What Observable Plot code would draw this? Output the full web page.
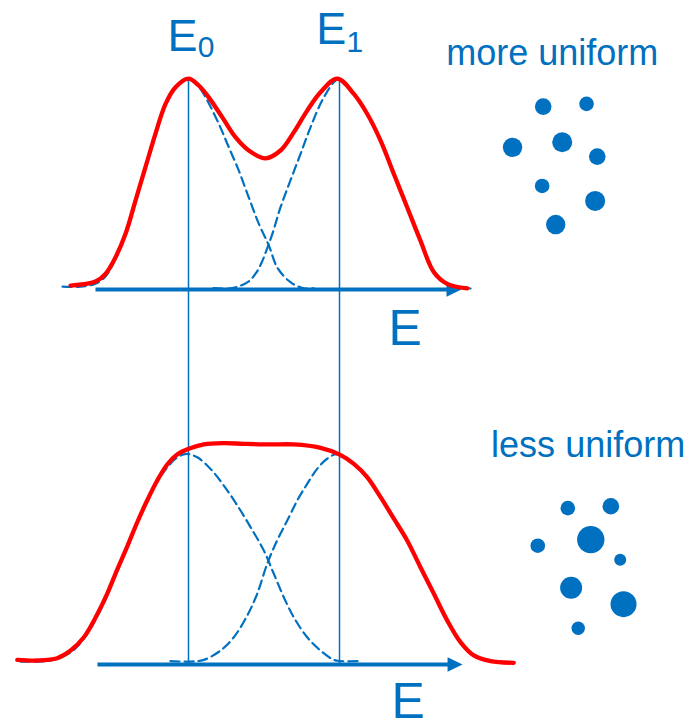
<!DOCTYPE html>
<html>
<head>
<meta charset="utf-8">
<script src="https://cdn.jsdelivr.net/npm/d3@7"></script>
<script src="https://cdn.jsdelivr.net/npm/@observablehq/plot@0.6"></script>
<style>
  body { margin: 0; background: #fff; }
  #chart svg { display: block; }
</style>
</head>
<body>
<div id="chart"></div>
<script>
// Two energy levels and their broadened line shapes (energy in arbitrary units,
// intensity normalised to the level peak height).
const E0 = 1;
const E1 = 2;

// Upper panel: narrow distributions ("more uniform").
const topSum = [[0.219,0.019],[0.384,0.038],[0.450,0.074],[0.517,0.153],[0.583,0.264],[0.649,0.422],[0.715,0.580],[0.781,0.738],[0.848,0.880],[0.914,0.959],[1.0,1.0],[1.068,0.967],[1.134,0.911],[1.223,0.817],[1.311,0.722],[1.399,0.659],[1.510,0.622],[1.609,0.659],[1.697,0.745],[1.786,0.848],[1.874,0.935],[1.985,1.0],[2.095,0.927],[2.183,0.833],[2.272,0.706],[2.360,0.548],[2.448,0.390],[2.536,0.232],[2.625,0.082],[2.713,0.027],[2.846,0.006]];
const topLevel0 = [[0.166,0.014],[0.285,0.014],[0.384,0.028],[0.450,0.062],[0.517,0.147],[0.583,0.265],[0.649,0.422],[0.715,0.578],[0.781,0.739],[0.848,0.882],[0.914,0.957],[1.0,1.0],[1.066,0.962],[1.113,0.911],[1.201,0.785],[1.267,0.674],[1.333,0.564],[1.399,0.437],[1.466,0.311],[1.532,0.209],[1.587,0.106],[1.675,0.035],[1.764,0.006],[1.830,0.006]];
const topLevel1 = [[1.166,0.007],[1.291,0.007],[1.397,0.038],[1.450,0.081],[1.490,0.137],[1.523,0.199],[1.556,0.265],[1.609,0.389],[1.675,0.517],[1.742,0.643],[1.808,0.769],[1.885,0.896],[1.962,0.982],[2.0,1.0],[2.095,0.927],[2.183,0.833],[2.272,0.706],[2.360,0.548],[2.448,0.390],[2.536,0.232],[2.625,0.090],[2.713,0.028],[2.801,0.009],[2.868,0.005]];

// Lower panel: broad distributions ("less uniform").
const bottomSum = [[-0.134,0.022],[0.0,0.019],[0.130,0.030],[0.219,0.066],[0.307,0.129],[0.395,0.237],[0.462,0.336],[0.528,0.450],[0.594,0.559],[0.660,0.673],[0.726,0.777],[0.793,0.872],[0.859,0.948],[0.925,0.995],[1.002,1.022],[1.101,1.043],[1.234,1.049],[1.366,1.046],[1.543,1.043],[1.697,1.043],[1.874,1.027],[2.002,0.995],[2.095,0.951],[2.183,0.888],[2.272,0.793],[2.360,0.691],[2.448,0.588],[2.536,0.461],[2.625,0.335],[2.713,0.209],[2.801,0.106],[2.889,0.043],[3.0,0.016],[3.154,0.008]];
const bottomLevel0 = [[-0.113,0.014],[0.086,0.019],[0.219,0.057],[0.307,0.123],[0.395,0.227],[0.462,0.327],[0.528,0.450],[0.594,0.559],[0.660,0.673],[0.726,0.777],[0.793,0.867],[0.859,0.934],[0.925,0.981],[0.987,0.998],[1.058,0.982],[1.146,0.927],[1.234,0.848],[1.323,0.754],[1.411,0.651],[1.499,0.540],[1.565,0.430],[1.631,0.319],[1.697,0.224],[1.786,0.129],[1.874,0.066],[1.962,0.022],[2.007,0.016],[2.139,0.016]];
const bottomLevel1 = [[0.881,0.016],[1.013,0.014],[1.101,0.022],[1.212,0.066],[1.300,0.129],[1.389,0.232],[1.455,0.335],[1.521,0.477],[1.587,0.588],[1.654,0.682],[1.720,0.777],[1.786,0.856],[1.852,0.927],[1.918,0.975],[1.985,0.997],[2.095,0.951],[2.183,0.888],[2.272,0.793],[2.360,0.691],[2.448,0.588],[2.536,0.461],[2.625,0.335],[2.713,0.209],[2.801,0.106],[2.889,0.043],[3.0,0.016],[3.154,0.008]];

// Particle sketches: position (same units as the curves) and relative size.
const particlesMore = [[3.349,0.867,0.83],[3.636,0.880,0.73],[3.146,0.674,0.97],[3.475,0.698,1.0],[3.707,0.630,0.83],[3.342,0.491,0.73],[3.693,0.420,1.0],[3.432,0.308,0.97]];
const particlesLess = [[3.512,0.741,0.73],[3.797,0.750,0.83],[3.664,0.592,1.37],[3.313,0.563,0.73],[3.859,0.496,0.6],[3.534,0.364,1.1],[3.881,0.286,1.3],[3.581,0.172,0.67]];

const panelTitles = ["more uniform", "less uniform"];
const levelNames = [["E", "0"], ["E", "1"]];
const axisName = "E";

// ---- layout ----
const BLUE = "#0070C0";
const RED = "#FF0000";
const FONT = "'Liberation Sans', Arial, Helvetica, sans-serif";
const upperShift = 1.777;             // the upper panel sits this far above the lower one
const axisFrom = [0.384, 0.397];      // start of each energy axis (upper, lower)
const axisTip = [2.808, 2.815];       // arrow tips

const toRows = (pairs, shift) => pairs.map(([e, i]) => ({e, i: i + shift}));
const toDots = (list, shift) => list.map(([e, i, s]) => ({e, i: i + shift, s}));

// right-pointing filled arrowhead, anchored at its tip
const arrowHead = {
  draw(context, size) {
    const r = Math.sqrt(size / Math.PI);
    const len = 2.5 * r, half = 1.2 * r;
    context.moveTo(0, 0);
    context.lineTo(-len, -half);
    context.lineTo(-len, half);
    context.closePath();
  }
};

const dashed = {x: "e", y: "i", curve: "catmull-rom", stroke: BLUE, strokeWidth: 2.2, strokeDasharray: "9,5"};
const solid = {x: "e", y: "i", curve: "catmull-rom", stroke: RED, strokeWidth: 4.3, strokeLinecap: "round", strokeLinejoin: "round"};

const axes = [
  {x1: axisFrom[0], x2: axisTip[0] - 0.08, y: upperShift, tip: axisTip[0], dy: 55},
  {x1: axisFrom[1], x2: axisTip[1] - 0.08, y: 0, tip: axisTip[1], dy: 53.5}
];

// label pieces: main letter and subscript, placed at the level energies
const levelLabels = [
  {x: E0, t: levelNames[0][0], size: 45, anchor: "end", dx: 9, dy: -27.5},
  {x: E0, t: levelNames[0][1], size: 30, anchor: "start", dx: 9.3, dy: -22},
  {x: E1, t: levelNames[1][0], size: 45, anchor: "end", dx: 6.8, dy: -34.5},
  {x: E1, t: levelNames[1][1], size: 30, anchor: "start", dx: 7, dy: -26.3}
];

const marks = [
  // level positions
  Plot.ruleX([E0, E1], {y1: 0, y2: 1 + upperShift, stroke: BLUE, strokeWidth: 1.5}),
  // individual level line shapes
  Plot.line(toRows(topLevel0, upperShift), dashed),
  Plot.line(toRows(topLevel1, upperShift), dashed),
  Plot.line(toRows(bottomLevel0, 0), dashed),
  Plot.line(toRows(bottomLevel1, 0), dashed),
  // energy axes
  Plot.link(axes, {x1: "x1", x2: "x2", y1: "y", y2: "y", stroke: BLUE, strokeWidth: 4}),
  Plot.dot(axes, {x: "tip", y: "y", r: 6, symbol: arrowHead, fill: BLUE, stroke: "none"}),
  // summed spectra
  Plot.line(toRows(topSum, upperShift), solid),
  Plot.line(toRows(bottomSum, 0), solid)
];

// level labels (each piece has its own offset)
for (const lab of levelLabels) {
  marks.push(Plot.text([lab], {x: "x", y: () => 1 + upperShift, text: "t",
    textAnchor: lab.anchor, lineAnchor: "bottom", fontSize: lab.size, fill: BLUE,
    dx: lab.dx, dy: lab.dy}));
}

// axis names under each arrow
axes.forEach((a, k) => {
  marks.push(Plot.text([a], {x: () => [2.325, 2.344][k], y: "y", text: () => axisName,
    textAnchor: "start", lineAnchor: "bottom", fontSize: 50, fill: BLUE, dy: a.dy}));
});

// panel titles
marks.push(Plot.text([{x: 2.707, y: 1.066 + upperShift, t: panelTitles[0]}, {x: 3.004, y: 0.982, t: panelTitles[1]}], {
  x: "x", y: "y", text: "t", textAnchor: "start", lineAnchor: "bottom", fontSize: 36, fill: BLUE}));

// particles
marks.push(Plot.dot(toDots(particlesMore, upperShift), {x: "e", y: "i", r: "s", fill: BLUE, stroke: "none"}));
marks.push(Plot.dot(toDots(particlesLess, 0), {x: "e", y: "i", r: "s", fill: BLUE, stroke: "none"}));

const chart = Plot.plot({
  width: 695,
  height: 721,
  style: {background: "#fff", fontFamily: FONT},
  x: {domain: [E0, E1], range: [188, 339], axis: null},
  y: {domain: [0, 1], range: [664, 453], axis: null},
  r: {type: "linear", domain: [0, 1], range: [0, 10]},
  marks
});

document.getElementById("chart").appendChild(chart);
</script>
</body>
</html>
